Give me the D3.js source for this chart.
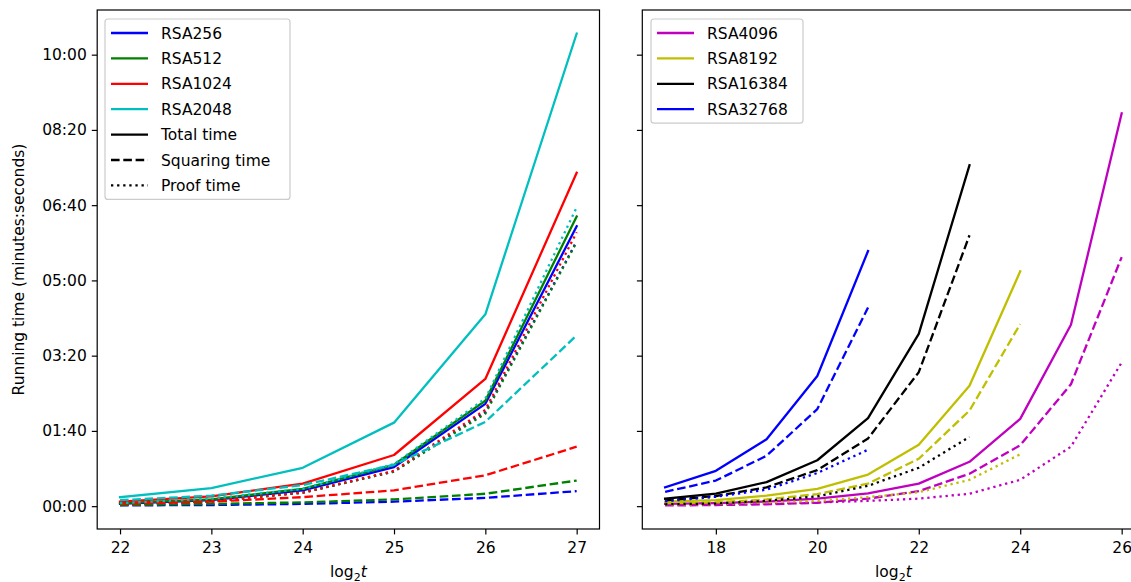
<!DOCTYPE html>
<html lang="en">
<head>
    <meta charset="UTF-8">
    <title>Running time vs log2 t</title>
    <script src="https://d3js.org/d3.v7.min.js"></script>
    <style>
        body {
            margin: 0;
            background: #fff;
            font-family: "DejaVu Sans", sans-serif;
        }
        .tick text {
            font-size: 15.5px;
            font-family: "DejaVu Sans", sans-serif;
            fill: #000;
        }
    </style>
</head>
<body>
    <svg width="1131" height="582"></svg>

    <script>
        // x values (log2 t)
        const leftT = [22, 23, 24, 25, 26, 27];
        const rightT = [17, 18, 19, 20, 21, 22, 23, 24, 25, 26];

        // running times in seconds
        const rsa256Total = [3, 8, 21, 52, 136, 372];
        const rsa256Square = [1, 1.5, 3, 6, 11, 20];
        const rsa256Proof = [2, 6.5, 18, 46, 125, 352];

        const rsa512Total = [4, 9, 23, 55, 140, 385];
        const rsa512Square = [1.5, 3, 5, 9, 16.5, 34];
        const rsa512Proof = [2.5, 6, 18, 46, 123, 351];

        const rsa1024Total = [6, 13, 30, 68, 169, 443];
        const rsa1024Square = [3, 6, 12, 21, 41, 79];
        const rsa1024Proof = [3, 7, 18, 47, 128, 364];

        const rsa2048Total = [12, 24, 51, 111, 255, 628];
        const rsa2048Square = [8, 14, 28, 55, 112, 227];
        const rsa2048Proof = [4, 10, 23, 56, 143, 397];

        const rsa4096Total = [3, 4, 6, 10, 17, 30, 59, 116, 241, 522];
        const rsa4096Square = [1, 1.5, 2.5, 4.5, 10, 20, 43, 81, 162, 331];
        const rsa4096Proof = [2, 2.5, 3.5, 5, 7, 10, 16.5, 35, 79, 191];

        const rsa8192Total = [6, 8, 14, 23, 42, 81.5, 160, 312];
        const rsa8192Square = [4, 5, 9, 16, 30, 63, 127, 242];
        const rsa8192Proof = [2, 3, 5, 7, 12, 18.5, 35, 69];

        const rsa16384Total = [10, 16.6, 32, 61, 117, 229, 453];
        const rsa16384Square = [7.7, 13.5, 25, 48, 90, 178, 360];
        const rsa16384Proof = [2.5, 3.5, 7, 13, 27, 51, 92];

        const rsa32768Total = [25, 47, 89, 173, 339];
        const rsa32768Square = [19, 34, 67, 129, 264];
        const rsa32768Proof = [6.5, 12.5, 22, 44, 75];

        const yTicks = [0, 100, 200, 300, 400, 500, 600];

        const leftSeries = [
            { name: "RSA256", color: "#0000ff", total: rsa256Total, square: rsa256Square, proof: rsa256Proof },
            { name: "RSA512", color: "#008000", total: rsa512Total, square: rsa512Square, proof: rsa512Proof },
            { name: "RSA1024", color: "#ff0000", total: rsa1024Total, square: rsa1024Square, proof: rsa1024Proof },
            { name: "RSA2048", color: "#00bfbf", total: rsa2048Total, square: rsa2048Square, proof: rsa2048Proof }
        ];
        const rightSeries = [
            { name: "RSA4096", color: "#bf00bf", total: rsa4096Total, square: rsa4096Square, proof: rsa4096Proof },
            { name: "RSA8192", color: "#bfbf00", total: rsa8192Total, square: rsa8192Square, proof: rsa8192Proof },
            { name: "RSA16384", color: "#000000", total: rsa16384Total, square: rsa16384Square, proof: rsa16384Proof },
            { name: "RSA32768", color: "#0000ff", total: rsa32768Total, square: rsa32768Square, proof: rsa32768Proof }
        ];

        const lw = 2.3;
        const dashes = { total: null, square: "8.6,3.7", proof: "2.3,3.8" };

        const svg = d3.select("svg");
        const plotTop = 10, plotBottom = 529;

        // shared y scale with matplotlib style 5% padding
        const allVals = [...leftSeries, ...rightSeries].flatMap(s => [...s.total, ...s.square, ...s.proof]);
        const yMin = d3.min(allVals), yMax = d3.max(allVals);
        const pad = (yMax - yMin) * 0.05;
        const y = d3.scaleLinear().domain([yMin - pad, yMax + pad]).range([plotBottom, plotTop]);

        const fmt = s => d3.format("02d")(Math.floor(s / 60)) + ":" + d3.format("02d")(s % 60);

        function panel(left, right, tVals, series, xTicks, showYLabels) {
            const xPad = (d3.max(tVals) - d3.min(tVals)) * 0.05;
            const x = d3.scaleLinear()
                .domain([d3.min(tVals) - xPad, d3.max(tVals) + xPad])
                .range([left, right]);

            const g = svg.append("g");
            const clipId = "clip" + Math.round(left);
            g.append("clipPath").attr("id", clipId)
                .append("rect").attr("x", left).attr("y", plotTop)
                .attr("width", right - left).attr("height", plotBottom - plotTop);

            const lines = g.append("g").attr("clip-path", `url(#${clipId})`);
            const line = d3.line().x(d => x(d[0])).y(d => y(d[1]));

            series.forEach(s => {
                ["total", "square", "proof"].forEach(k => {
                    const pts = s[k].map((v, i) => [tVals[i], v]);
                    lines.append("path")
                        .attr("d", line(pts))
                        .attr("fill", "none")
                        .attr("stroke", s.color)
                        .attr("stroke-width", lw)
                        .attr("stroke-linejoin", "round")
                        .attr("stroke-linecap", k === "total" ? "square" : "butt")
                        .attr("stroke-dasharray", dashes[k]);
                });
            });

            // axes
            const xAxis = d3.axisBottom(x).tickValues(xTicks).tickFormat(d3.format("d"))
                .tickSize(5.4).tickPadding(8);
            g.append("g")
                .attr("transform", `translate(0,${plotBottom})`)
                .call(xAxis)
                .call(a => a.select(".domain").remove())
                .call(a => a.selectAll("line").attr("stroke-width", 1.2));

            const yAxis = d3.axisLeft(y).tickValues(yTicks).tickSize(5.4).tickPadding(5)
                .tickFormat(showYLabels ? fmt : "");
            g.append("g")
                .attr("transform", `translate(${left},0)`)
                .call(yAxis)
                .call(a => a.select(".domain").remove())
                .call(a => a.selectAll("line").attr("stroke-width", 1.2));

            g.append("rect")
                .attr("x", left).attr("y", plotTop)
                .attr("width", right - left).attr("height", plotBottom - plotTop)
                .attr("fill", "none").attr("stroke", "#000").attr("stroke-width", 1.2);

            // x label: log2 t
            const lab = g.append("text")
                .attr("x", (left + right) / 2).attr("y", 577)
                .attr("text-anchor", "middle")
                .attr("font-size", 15.5);
            lab.append("tspan").text("log");
            lab.append("tspan").attr("font-size", 11).attr("dy", 3.5).text("2");
            lab.append("tspan").attr("dy", -3.5).attr("font-style", "italic").text("t");
            return x;
        }

        panel(97.2, 599.5, leftT, leftSeries, leftT, true);
        panel(642.3, 1144.5, rightT, rightSeries, [18, 20, 22, 24, 26], false);

        svg.append("text")
            .attr("transform", "translate(24,269.5) rotate(-90)")
            .attr("text-anchor", "middle")
            .attr("font-size", 15.5)
            .text("Running time (minutes:seconds)");

        // legends
        function legend(x0, y0, w, entries) {
            const step = 25.4;
            const h = (entries.length - 1) * step + 28;
            const lg = svg.append("g");
            lg.append("rect")
                .attr("x", x0).attr("y", y0).attr("width", w).attr("height", h)
                .attr("rx", 3).attr("fill", "#fff").attr("fill-opacity", 0.8)
                .attr("stroke", "#cccccc").attr("stroke-width", 1.2);
            entries.forEach((e, i) => {
                const cy = y0 + 14 + i * step;
                lg.append("line")
                    .attr("x1", x0 + 6).attr("x2", x0 + 43)
                    .attr("y1", cy).attr("y2", cy)
                    .attr("stroke", e.color).attr("stroke-width", lw)
                    .attr("stroke-dasharray", e.dash);
                lg.append("text")
                    .attr("x", x0 + 56).attr("y", cy).attr("dy", "0.36em")
                    .attr("font-size", 15.5)
                    .text(e.label);
            });
        }

        legend(105, 19, 185, [
            ...leftSeries.map(s => ({ label: s.name, color: s.color, dash: null })),
            { label: "Total time", color: "#000", dash: dashes.total },
            { label: "Squaring time", color: "#000", dash: dashes.square },
            { label: "Proof time", color: "#000", dash: dashes.proof }
        ]);
        legend(651, 19, 152, rightSeries.map(s => ({ label: s.name, color: s.color, dash: null })));
    </script>
</body>
</html>
